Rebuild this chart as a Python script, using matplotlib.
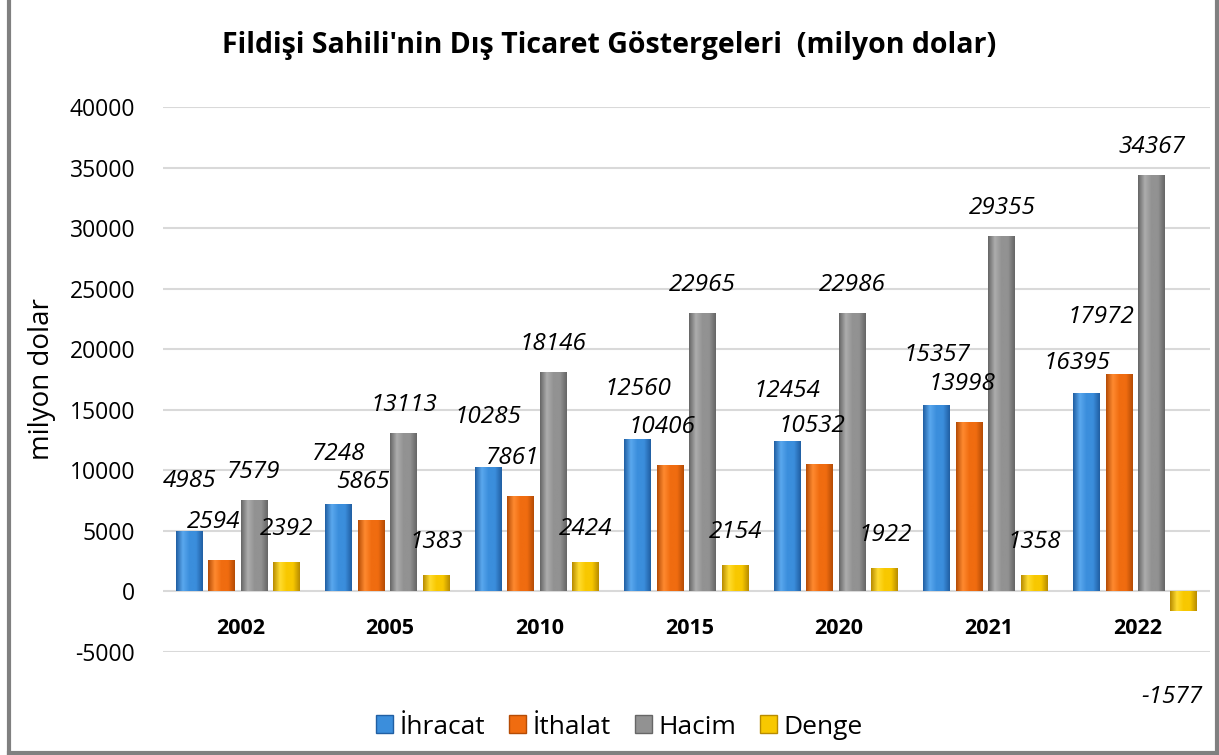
import numpy as np
import matplotlib.pyplot as plt
from matplotlib.colors import LinearSegmentedColormap
from matplotlib.patches import Rectangle
from matplotlib.lines import Line2D

plt.rcParams['font.family'] = ['Open Sans', 'DejaVu Sans']

# data (milyon dolar)
years = ["2002", "2005", "2010", "2015", "2020", "2021", "2022"]
ihracat = [4985, 7248, 10285, 12560, 12454, 15357, 16395]
ithalat = [2594, 5865, 7861, 10406, 10532, 13998, 17972]
hacim = [7579, 13113, 18146, 22965, 22986, 29355, 34367]
denge = [2392, 1383, 2424, 2154, 1922, 1358, -1577]
series_names = ["İhracat", "İthalat", "Hacim", "Denge"]
yticks = [-5000, 0, 5000, 10000, 15000, 20000, 25000, 30000, 35000, 40000]

# (dark edge, mid, light) for the bevelled bar look
palette = [
    ("#215fa3", "#3b8edc", "#5aa8ee"),
    ("#b54c05", "#f06c10", "#ff8a30"),
    ("#666666", "#929292", "#adadad"),
    ("#b88c00", "#f8c800", "#ffdc30"),
]
label_lift = [50, 38, 28, 33]   # px above bar top, per series
label_shift = [0, -8, 0, 0]     # px sideways, per series

fig = plt.figure(figsize=(12.19, 7.55), dpi=100)
ax = fig.add_axes([163 / 1219, 103 / 755, 1047 / 1219, 545 / 755])
ax.set_xlim(-0.5, len(years) - 0.5)
ax.set_ylim(-5000, 40000)

x = np.arange(len(years))
step = 0.217
width = 0.18
data = [ihracat, ithalat, hacim, denge]

# per-bar label offsets; where the İhracat and İthalat labels would collide,
# spread them apart vertically like the original chart does
lifts = [[label_lift[i]] * len(years) for i in range(4)]
shifts = [[label_shift[i]] * len(years) for i in range(4)]
for j in range(len(years)):
    yb = ax.transData.transform((0, ihracat[j]))[1] + lifts[0][j]
    yo = ax.transData.transform((0, ithalat[j]))[1] + lifts[1][j]
    if abs(yb - yo) < 28:
        lifts[0][j], lifts[1][j] = 30, 57
        shifts[0][j], shifts[1][j] = -10, -18

for i, (vals, cols) in enumerate(zip(data, palette)):
    pos = x + (i - 1.5) * step
    bars = ax.bar(pos, vals, width, color=cols[1], zorder=3)
    cmap = LinearSegmentedColormap.from_list(
        "g%d" % i, [cols[0], cols[2], cols[1], cols[1], cols[0]])
    grad = np.linspace(0, 1, 64).reshape(1, -1)
    for b in bars:
        x0 = b.get_x()
        y0 = b.get_y()
        h = b.get_height()
        im = ax.imshow(grad, cmap=cmap, aspect='auto', zorder=4,
                       extent=(x0, x0 + b.get_width(), min(y0, y0 + h), max(y0, y0 + h)))
        im.set_clip_path(b)
    for j, (p, v) in enumerate(zip(pos, vals)):
        if v >= 0:
            off = lifts[i][j]
            dx = shifts[i][j]
        else:
            off = -86
            dx = -12
        ax.annotate(str(v), (p, v), xytext=(dx * 0.72, off * 0.72), textcoords='offset points',
                    ha='center', va='center', fontsize=17.5, style='italic', zorder=5)

ax.set_aspect('auto')
ax.set_xlim(-0.5, len(years) - 0.5)
ax.set_ylim(-5000, 40000)

# category labels sit just below the zero line
for xi, yr in zip(x, years):
    ax.annotate(yr, (xi, 0), xytext=(2, -27), textcoords='offset points',
                ha='center', va='center', fontsize=15.5, fontweight='bold')

ax.set_xticks([])
ax.set_yticks(yticks)
ax.set_yticklabels([str(t) for t in yticks], fontsize=16.5)
ax.tick_params(axis='y', length=0, pad=20)
ax.grid(axis='y', color='#d9d9d9', linewidth=1.5, zorder=0)
for s in ax.spines.values():
    s.set_visible(False)
ax.set_ylabel("milyon dolar", fontsize=20, labelpad=10)

fig.text(0.5, 1 - 45 / 755, "Fildişi Sahili'nin Dış Ticaret Göstergeleri  (milyon dolar)",
         ha='center', va='center', fontsize=20.5, fontweight='bold')

handles = [Rectangle((0, 0), 1, 1, facecolor=c[1], edgecolor=c[0]) for c in palette]
fig.legend(handles, series_names, loc='center', bbox_to_anchor=(0.508, 1 - 727 / 755),
           ncol=4, frameon=False, fontsize=19, handlelength=0.65, handleheight=0.65,
           handletextpad=0.25, columnspacing=0.9)

# grey outer frame
for xs, ys in [([9, 9], [0, 753]), ([1217, 1217], [0, 753]), ([9, 1217], [753, 753])]:
    fig.add_artist(Line2D([v / 1219 for v in xs], [1 - v / 755 for v in ys],
                          color='#808080', linewidth=3))

fig.savefig("out.png", dpi=100)
